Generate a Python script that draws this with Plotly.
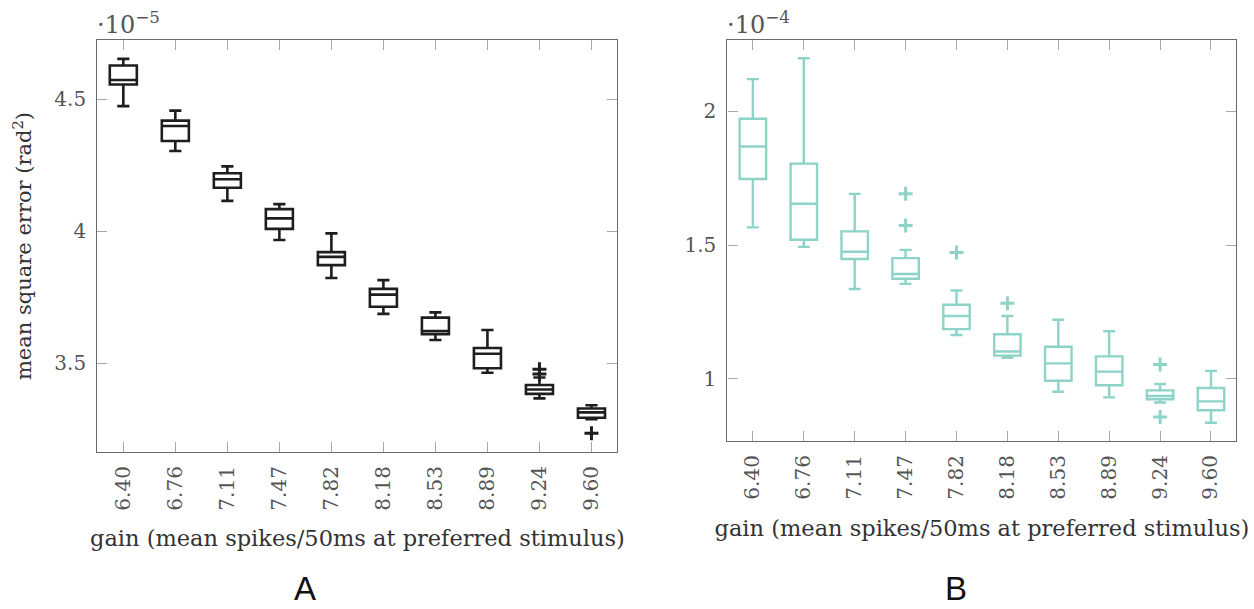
import plotly.graph_objects as go

gains = ["6.40", "6.76", "7.11", "7.47", "7.82", "8.18", "8.53", "8.89", "9.24", "9.60"]

# Panel A (units of 1e-5 rad^2)
a_low = [4.473, 4.303, 4.114, 3.966, 3.822, 3.686, 3.587, 3.463, 3.366, 3.287]
a_q1 = [4.555, 4.341, 4.164, 4.008, 3.871, 3.713, 3.609, 3.480, 3.383, 3.293]
a_med = [4.572, 4.398, 4.196, 4.048, 3.902, 3.759, 3.621, 3.535, 3.400, 3.313]
a_q3 = [4.627, 4.418, 4.219, 4.083, 3.920, 3.781, 3.672, 3.557, 3.417, 3.328]
a_high = [4.652, 4.456, 4.245, 4.102, 3.991, 3.814, 3.692, 3.625, 3.445, 3.340]
a_out_x = ["9.24", "9.24", "9.60"]
a_out_y = [3.476, 3.458, 3.234]

# Panel B (units of 1e-4 rad^2)
b_low = [1.566, 1.493, 1.336, 1.355, 1.164, 1.079, 0.952, 0.931, 0.912, 0.836]
b_q1 = [1.747, 1.520, 1.448, 1.374, 1.186, 1.087, 0.993, 0.976, 0.924, 0.883]
b_med = [1.868, 1.654, 1.475, 1.392, 1.235, 1.102, 1.058, 1.027, 0.936, 0.916]
b_q3 = [1.972, 1.804, 1.551, 1.451, 1.277, 1.167, 1.120, 1.084, 0.957, 0.966]
b_high = [2.120, 2.198, 1.691, 1.482, 1.330, 1.235, 1.221, 1.178, 0.981, 1.030]
b_out_x = ["7.47", "7.47", "7.82", "8.18", "9.24", "9.24"]
b_out_y = [1.692, 1.573, 1.472, 1.283, 1.054, 0.858]

A_COLOR = "#1e1e1e"
B_COLOR = "#8dd3c7"
SERIF = "DejaVu Serif"
TEXT_GRAY = "#555555"
TITLE_COLOR = "#333333"

fig = go.Figure()

fig.add_trace(go.Box(
    x=gains, q1=a_q1, median=a_med, q3=a_q3, lowerfence=a_low, upperfence=a_high,
    boxpoints=False, line=dict(color=A_COLOR, width=2.6), fillcolor="rgba(255,255,255,0)",
    whiskerwidth=0.45, width=0.52, xaxis="x", yaxis="y", showlegend=False, hoverinfo="skip"))
fig.add_trace(go.Scatter(
    x=a_out_x, y=a_out_y, mode="markers", xaxis="x", yaxis="y", showlegend=False,
    marker=dict(symbol="cross-thin", size=10, line=dict(color=A_COLOR, width=3)), hoverinfo="skip"))

fig.add_trace(go.Box(
    x=gains, q1=b_q1, median=b_med, q3=b_q3, lowerfence=b_low, upperfence=b_high,
    boxpoints=False, line=dict(color=B_COLOR, width=2.4), fillcolor="rgba(255,255,255,0)",
    whiskerwidth=0.45, width=0.52, xaxis="x2", yaxis="y2", showlegend=False, hoverinfo="skip"))
fig.add_trace(go.Scatter(
    x=b_out_x, y=b_out_y, mode="markers", xaxis="x2", yaxis="y2", showlegend=False,
    marker=dict(symbol="cross-thin", size=10, line=dict(color=B_COLOR, width=3)), hoverinfo="skip"))

axis_common = dict(
    showline=True, linecolor="#6a6a6a", linewidth=1.3, mirror="ticks",
    ticks="inside", ticklen=10, tickcolor="#a8a8a8", tickwidth=1.2,
    showgrid=False, zeroline=False,
    tickfont=dict(family=SERIF, size=20, color=TEXT_GRAY),
)

xtitle = "gain (mean spikes/50ms at preferred stimulus)"
xtitle_font = dict(family=SERIF, size=22.5, color=TITLE_COLOR)
ytitle_font = dict(family=SERIF, size=21, color=TITLE_COLOR)

fig.update_layout(
    width=1254, height=609,
    margin=dict(l=0, r=0, t=0, b=0),
    paper_bgcolor="white", plot_bgcolor="white",
    xaxis=dict(domain=[0.0776, 0.4924], anchor="y", type="category",
               categoryorder="array", categoryarray=gains, range=[-0.5, 9.5],
               tickangle=-90, ticklabelstandoff=5,
               title=dict(text=xtitle, font=xtitle_font, standoff=20),
               **axis_common),
    yaxis=dict(domain=[0.2578, 0.9343], anchor="x", range=[3.163, 4.7235],
               tickvals=[3.5, 4, 4.5], ticktext=["3.5", "4", "4.5"], ticklabelstandoff=6,
               title=dict(text="mean square error (rad<sup>2</sup>)", font=ytitle_font, standoff=16),
               **axis_common),
    xaxis2=dict(domain=[0.5801, 0.9860], anchor="y2", type="category",
                categoryorder="array", categoryarray=gains, range=[-0.5, 9.5],
                tickangle=-90, ticklabelstandoff=5,
                title=dict(text=xtitle, font=xtitle_font, standoff=21),
                **axis_common),
    yaxis2=dict(domain=[0.2759, 0.9343], anchor="x2", range=[0.768, 2.266],
                tickvals=[1, 1.5, 2], ticktext=["1", "1.5", "2"], ticklabelstandoff=6,
                **axis_common),
)

fig.add_annotation(text="·10<sup>−5</sup>", xref="paper", yref="paper", x=0.0760, y=0.9343,
                   xanchor="left", yanchor="bottom", showarrow=False, yshift=-1,
                   font=dict(family=SERIF, size=24, color=TEXT_GRAY))
fig.add_annotation(text="·10<sup>−4</sup>", xref="paper", yref="paper", x=0.5785, y=0.9343,
                   xanchor="left", yanchor="bottom", showarrow=False, yshift=-1,
                   font=dict(family=SERIF, size=24, color=TEXT_GRAY))
fig.add_annotation(text="A", xref="paper", yref="paper", x=305 / 1254, y=0,
                   xanchor="center", yanchor="bottom", showarrow=False, yshift=0,
                   font=dict(family="Liberation Sans", size=33, color="#111"))
fig.add_annotation(text="B", xref="paper", yref="paper", x=956 / 1254, y=0,
                   xanchor="center", yanchor="bottom", showarrow=False, yshift=0,
                   font=dict(family="Liberation Sans", size=33, color="#111"))

fig.write_html("out.html")
